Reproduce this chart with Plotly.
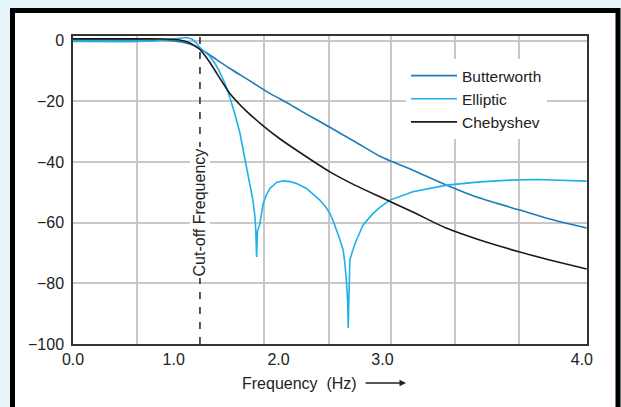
import plotly.graph_objects as go

# ---- data (frequency in axis units, magnitude in dB) ----
butter_f = [0.0, 0.301, 0.651, 0.894, 1.001, 1.069, 1.137, 1.186, 1.235, 1.303, 1.381, 1.526,
            1.721, 1.915, 2.110, 2.207, 2.499, 2.752, 2.985, 3.306, 3.636, 3.957, 4.346, 4.637, 4.997]
butter_db = [0.26, 0.26, 0.30, 0.16, -0.10, -0.49, -1.05, -1.71, -2.63, -4.01, -5.82, -9.11,
             -13.22, -17.34, -20.95, -22.93, -28.52, -33.45, -38.06, -42.66, -47.6, -51.87, -55.82, -58.78, -61.74]

ellip_f = [0.0, 0.262, 0.554, 0.797, 0.943, 1.040, 1.105, 1.157, 1.196, 1.235, 1.283, 1.332,
           1.381, 1.429, 1.478, 1.526, 1.575, 1.624, 1.656, 1.692, 1.721, 1.750, 1.770, 1.778,
           1.786, 1.794, 1.818, 1.850, 1.881, 1.915, 1.980, 2.044, 2.109, 2.175, 2.272, 2.401,
           2.460, 2.499, 2.532, 2.564, 2.596, 2.628, 2.645, 2.661, 2.672, 2.677, 2.683, 2.693,
           2.722, 2.758, 2.822, 2.919, 2.985, 3.082, 3.306, 3.636, 3.957, 4.249, 4.511, 4.735, 4.997]
ellip_db = [-0.16, -0.3, -0.3, -0.07, 0.43, 0.92, 1.12, 0.59, -0.56, -2.2, -3.68, -5.16,
            -7.47, -10.43, -14.05, -18.65, -24.24, -30.49, -36.09, -42.0, -47.04, -52.53, -58.03, -62.5,
            -71.28, -63.0, -60.2, -53.6, -50.9, -48.68, -46.71, -46.18, -46.45, -47.04, -48.68, -52.53,
            -54.9, -56.91, -59.5, -62.4, -65.5, -68.98, -73.5, -79.93, -86.0, -94.74, -84.0, -72.27,
            -68.98, -65.69, -60.76, -56.91, -54.93, -52.53, -49.8, -47.6, -46.51, -45.95, -45.72, -45.95, -46.28]

cheby_f = [0.0, 0.36, 0.651, 0.894, 1.001, 1.069, 1.137, 1.186, 1.235, 1.283, 1.332, 1.381,
           1.429, 1.526, 1.689, 1.850, 2.012, 2.175, 2.499, 2.742, 2.985, 3.306, 3.636, 3.957,
           4.346, 4.637, 4.997]
cheby_db = [0.66, 0.66, 0.66, 0.59, 0.43, 0.03, -0.72, -1.64, -2.86, -4.84, -7.14, -9.77,
            -12.40, -17.34, -23.26, -28.03, -32.30, -36.09, -43.22, -47.6, -51.45, -56.48, -61.84, -65.69,
            -69.64, -72.27, -75.23]

cutoff_freq = 1.235
x_tick_vals = [0, 0.98, 2.0, 3.01, 4.95]
x_tick_text = ["0.0", "1.0", "2.0", "3.0", "4.0"]
y_tick_vals = [0, -20, -40, -60, -80, -100]

FONT = "Liberation Sans, Arial, Helvetica, sans-serif"
TXT = "#222222"

fig = go.Figure()
fig.add_trace(go.Scatter(x=butter_f, y=butter_db, mode="lines", name="Butterworth",
                         line=dict(color="#1b7db8", width=1.6, shape="spline", smoothing=0.6)))
fig.add_trace(go.Scatter(x=ellip_f, y=ellip_db, mode="lines", name="Elliptic",
                         line=dict(color="#1eb0ea", width=1.6)))
fig.add_trace(go.Scatter(x=cheby_f, y=cheby_db, mode="lines", name="Chebyshev",
                         line=dict(color="#1a1a1a", width=1.6, shape="spline", smoothing=0.6)))

W, H = 621, 407
ml, mr, mt, mb = 73, 34, 36, 63
pw, ph = W - ml - mr, H - mt - mb


def px(x):
    return (x - ml) / pw


def py(y):
    return (H - mb - y) / ph


# outer black frame of the figure panel
fig.add_shape(type="rect", xref="paper", yref="paper",
              x0=px(12.5), x1=px(618), y0=py(430), y1=py(10.5),
              line=dict(color="black", width=5), fillcolor="white", layer="below")

# cut-off frequency marker
fig.add_shape(type="line", xref="x", yref="paper", x0=cutoff_freq, x1=cutoff_freq, y0=0, y1=1,
              line=dict(color="#222222", width=1.5, dash="7px,8px"))
fig.add_annotation(x=cutoff_freq, xref="x", y=py(212.5), yref="paper", text="Cut-off Frequency",
                   textangle=-90, showarrow=False, bgcolor="white",
                   font=dict(family=FONT, size=16, color=TXT))

# x-axis title with arrow
fig.add_annotation(x=px(240), y=py(383), xref="paper", yref="paper",
                   text="Frequency\u00a0\u00a0(Hz)", showarrow=False, xanchor="left", yanchor="middle",
                   font=dict(family=FONT, size=16, color=TXT))
fig.add_annotation(x=px(406), y=py(383), xref="paper", yref="paper", text="",
                   showarrow=True, ax=-42, ay=0, arrowhead=2, arrowsize=1, arrowwidth=1.3,
                   arrowcolor=TXT)

fig.update_layout(
    width=W, height=H,
    margin=dict(l=ml, r=mr, t=mt, b=mb),
    paper_bgcolor="#e6f4fa",
    plot_bgcolor="white",
    font=dict(family=FONT, size=16, color=TXT),
    showlegend=True,
    legend=dict(x=px(406), y=py(59), xanchor="left", yanchor="top",
                bgcolor="white", borderwidth=0, font=dict(family=FONT, size=15.5, color=TXT),
                itemwidth=46, tracegroupgap=0),
)
fig.update_xaxes(range=[0, 5], tickmode="array", tickvals=x_tick_vals, ticktext=x_tick_text,
                 showgrid=False, zeroline=False, showline=True, linecolor="#333333", linewidth=1.5,
                 mirror=True, ticks="", tickfont=dict(size=16),
                 minor=dict(tickvals=[0.62, 1.86, 2.49, 3.09, 3.72, 4.34], showgrid=True,
                            gridcolor="#c8c8c8", gridwidth=1.5, ticks=""))
fig.update_yaxes(range=[-100, 1.6], tickmode="array", tickvals=y_tick_vals,
                 showgrid=True, gridcolor="#c8c8c8", gridwidth=1.5, zeroline=False,
                 showline=True, linecolor="#333333", linewidth=1.5, mirror=True, ticks="",
                 tickfont=dict(size=16), ticklabelstandoff=4)

fig.write_html("out.html")
